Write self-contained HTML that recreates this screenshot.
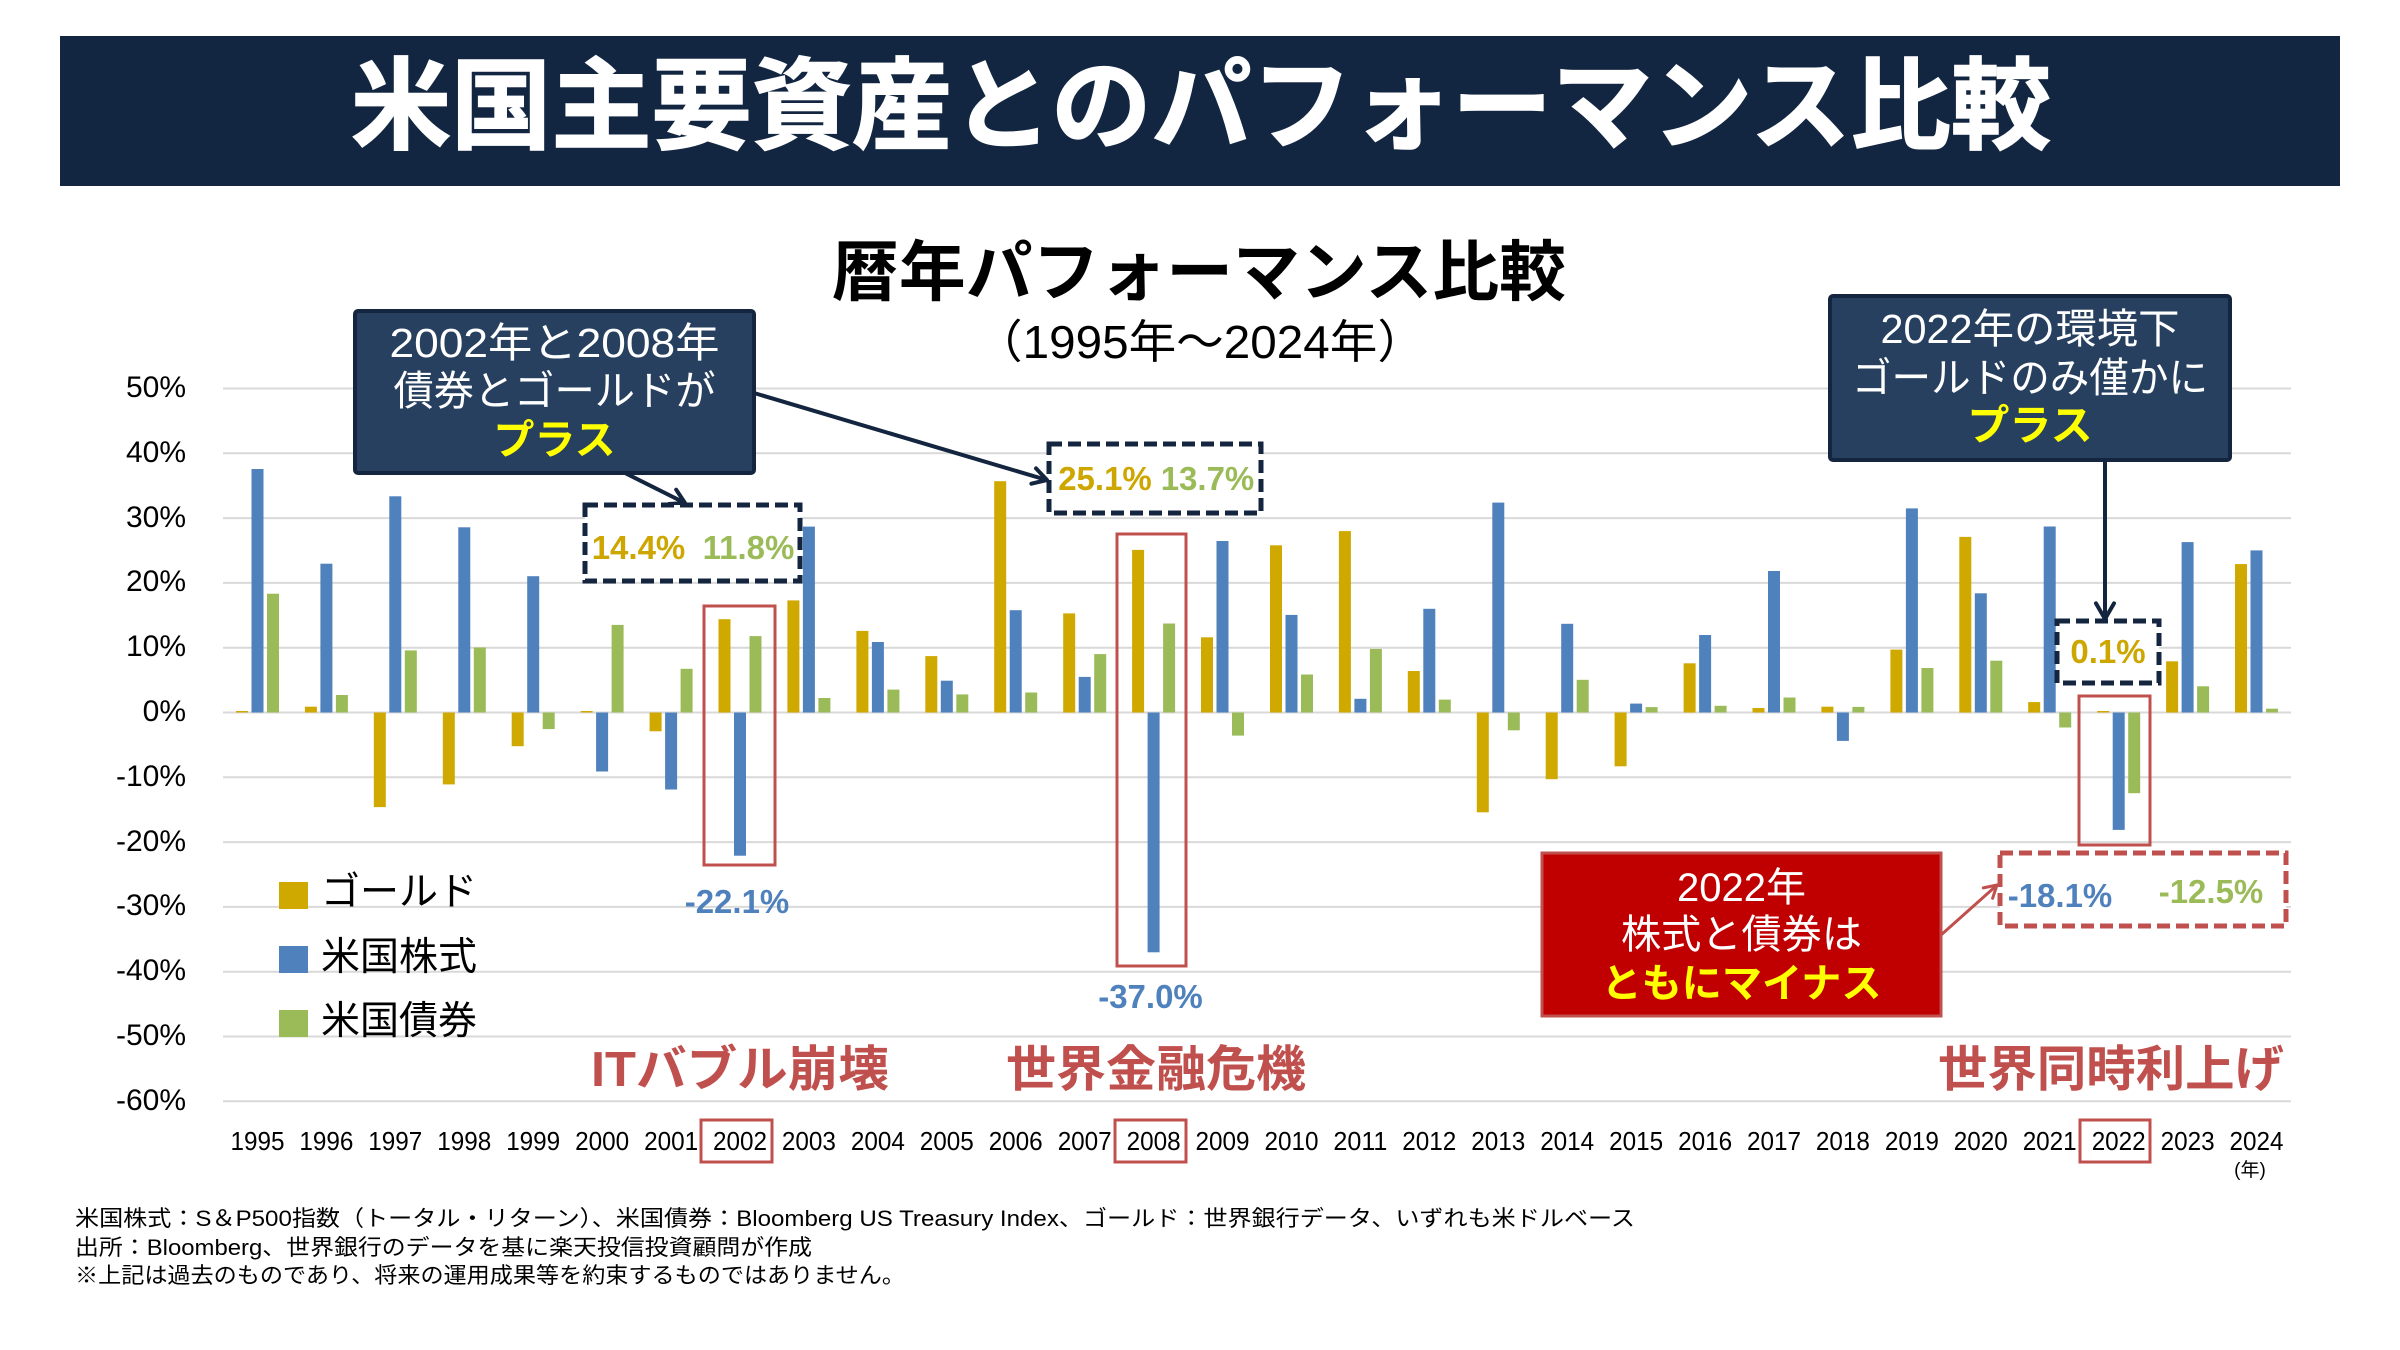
<!DOCTYPE html>
<html lang="ja">
<head>
<meta charset="utf-8">
<style>
html,body{margin:0;padding:0;background:#fff;}
body{width:2400px;height:1350px;overflow:hidden;}
svg{display:block;}
text{font-family:"Liberation Sans","Noto Sans CJK JP",sans-serif;}
.b{font-weight:bold;}
</style>
</head>
<body>
<svg width="2400" height="1350" viewBox="0 0 2400 1350" xmlns="http://www.w3.org/2000/svg">
<rect x="0" y="0" width="2400" height="1350" fill="#fff"/>
<!-- header -->
<rect x="60" y="36" width="2280" height="150" fill="#132641"/>
<text x="1201" y="141" text-anchor="middle" font-size="100" class="b" fill="#fff" stroke="#fff" stroke-width="1.5" textLength="1700" lengthAdjust="spacingAndGlyphs">米国主要資産とのパフォーマンス比較</text>

<!-- chart title -->
<text x="1199" y="295" text-anchor="middle" font-size="66" class="b" fill="#000" textLength="734" lengthAdjust="spacingAndGlyphs">暦年パフォーマンス比較</text>
<text x="1200" y="358" text-anchor="middle" font-size="46" fill="#000" textLength="450" lengthAdjust="spacingAndGlyphs">（1995年～2024年）</text>

<!-- gridlines -->
<g stroke="#d9d9d9" stroke-width="2">
<line x1="223" y1="388.5" x2="2291" y2="388.5"/>
<line x1="223" y1="453.3" x2="2291" y2="453.3"/>
<line x1="223" y1="518.1" x2="2291" y2="518.1"/>
<line x1="223" y1="582.9" x2="2291" y2="582.9"/>
<line x1="223" y1="647.7" x2="2291" y2="647.7"/>
<line x1="223" y1="712.5" x2="2291" y2="712.5"/>
<line x1="223" y1="777.3" x2="2291" y2="777.3"/>
<line x1="223" y1="842.1" x2="2291" y2="842.1"/>
<line x1="223" y1="906.9" x2="2291" y2="906.9"/>
<line x1="223" y1="971.7" x2="2291" y2="971.7"/>
<line x1="223" y1="1036.5" x2="2291" y2="1036.5"/>
<line x1="223" y1="1101.3" x2="2291" y2="1101.3"/>
</g>

<!-- y labels -->
<g font-size="30" fill="#000" text-anchor="end">
<text x="186" y="397">50%</text>
<text x="186" y="462">40%</text>
<text x="186" y="527">30%</text>
<text x="186" y="591">20%</text>
<text x="186" y="656">10%</text>
<text x="186" y="721">0%</text>
<text x="186" y="786">-10%</text>
<text x="186" y="851">-20%</text>
<text x="186" y="915">-30%</text>
<text x="186" y="980">-40%</text>
<text x="186" y="1045">-50%</text>
<text x="186" y="1110">-60%</text>
</g>

<!-- gold bars -->
<g fill="#cfa800">
<rect x="236.0" y="711.0" width="12" height="1.5"/>
<rect x="304.9" y="706.7" width="12" height="5.8"/>
<rect x="373.8" y="712.5" width="12" height="94.6"/>
<rect x="442.8" y="712.5" width="12" height="71.9"/>
<rect x="511.7" y="712.5" width="12" height="33.7"/>
<rect x="580.6" y="711.0" width="12" height="1.5"/>
<rect x="649.6" y="712.5" width="12" height="18.8"/>
<rect x="718.5" y="619.2" width="12" height="93.3"/>
<rect x="787.4" y="600.4" width="12" height="112.1"/>
<rect x="856.4" y="630.9" width="12" height="81.6"/>
<rect x="925.3" y="656.1" width="12" height="56.4"/>
<rect x="994.2" y="481.2" width="12" height="231.3"/>
<rect x="1063.2" y="613.4" width="12" height="99.1"/>
<rect x="1132.1" y="549.9" width="12" height="162.6"/>
<rect x="1201.0" y="637.3" width="12" height="75.2"/>
<rect x="1270.0" y="545.3" width="12" height="167.2"/>
<rect x="1338.9" y="531.1" width="12" height="181.4"/>
<rect x="1407.8" y="671.0" width="12" height="41.5"/>
<rect x="1476.8" y="712.5" width="12" height="99.8"/>
<rect x="1545.7" y="712.5" width="12" height="66.7"/>
<rect x="1614.6" y="712.5" width="12" height="53.8"/>
<rect x="1683.6" y="663.3" width="12" height="49.2"/>
<rect x="1752.5" y="708.0" width="12" height="4.5"/>
<rect x="1821.4" y="706.7" width="12" height="5.8"/>
<rect x="1890.4" y="649.6" width="12" height="62.9"/>
<rect x="1959.3" y="536.9" width="12" height="175.6"/>
<rect x="2028.2" y="702.1" width="12" height="10.4"/>
<rect x="2097.2" y="711.0" width="12" height="1.5"/>
<rect x="2166.1" y="661.3" width="12" height="51.2"/>
<rect x="2235.0" y="564.1" width="12" height="148.4"/>
</g>

<!-- blue bars -->
<g fill="#4f81bd">
<rect x="251.5" y="469.0" width="12" height="243.5"/>
<rect x="320.4" y="563.7" width="12" height="148.8"/>
<rect x="389.3" y="496.3" width="12" height="216.2"/>
<rect x="458.3" y="527.3" width="12" height="185.2"/>
<rect x="527.2" y="576.2" width="12" height="136.3"/>
<rect x="596.1" y="712.5" width="12" height="59.0"/>
<rect x="665.1" y="712.5" width="12" height="77.0"/>
<rect x="734.0" y="712.5" width="12" height="143.2"/>
<rect x="802.9" y="526.6" width="12" height="185.9"/>
<rect x="871.9" y="642.0" width="12" height="70.5"/>
<rect x="940.8" y="680.7" width="12" height="31.8"/>
<rect x="1009.7" y="610.2" width="12" height="102.3"/>
<rect x="1078.7" y="676.9" width="12" height="35.6"/>
<rect x="1147.6" y="712.5" width="12" height="239.8"/>
<rect x="1216.5" y="541.0" width="12" height="171.5"/>
<rect x="1285.5" y="614.9" width="12" height="97.6"/>
<rect x="1354.4" y="698.8" width="12" height="13.7"/>
<rect x="1423.3" y="608.8" width="12" height="103.7"/>
<rect x="1492.3" y="502.6" width="12" height="209.9"/>
<rect x="1561.2" y="623.8" width="12" height="88.7"/>
<rect x="1630.1" y="703.6" width="12" height="8.9"/>
<rect x="1699.1" y="635.0" width="12" height="77.5"/>
<rect x="1768.0" y="571.0" width="12" height="141.5"/>
<rect x="1836.9" y="712.5" width="12" height="28.4"/>
<rect x="1905.9" y="508.4" width="12" height="204.1"/>
<rect x="1974.8" y="593.3" width="12" height="119.2"/>
<rect x="2043.7" y="526.5" width="12" height="186.0"/>
<rect x="2112.7" y="712.5" width="12" height="117.4"/>
<rect x="2181.6" y="542.1" width="12" height="170.4"/>
<rect x="2250.5" y="550.4" width="12" height="162.1"/>
</g>

<!-- green bars -->
<g fill="#9bbb59">
<rect x="267.0" y="593.7" width="12" height="118.8"/>
<rect x="335.9" y="695.0" width="12" height="17.5"/>
<rect x="404.8" y="650.4" width="12" height="62.1"/>
<rect x="473.8" y="647.5" width="12" height="65.0"/>
<rect x="542.7" y="712.5" width="12" height="16.6"/>
<rect x="611.6" y="624.9" width="12" height="87.6"/>
<rect x="680.6" y="668.8" width="12" height="43.7"/>
<rect x="749.5" y="636.1" width="12" height="76.4"/>
<rect x="818.4" y="698.0" width="12" height="14.5"/>
<rect x="887.4" y="689.6" width="12" height="22.9"/>
<rect x="956.3" y="694.4" width="12" height="18.1"/>
<rect x="1025.2" y="692.5" width="12" height="20.0"/>
<rect x="1094.2" y="654.1" width="12" height="58.4"/>
<rect x="1163.1" y="623.5" width="12" height="89.0"/>
<rect x="1232.0" y="712.5" width="12" height="23.1"/>
<rect x="1301.0" y="674.5" width="12" height="38.0"/>
<rect x="1369.9" y="648.9" width="12" height="63.6"/>
<rect x="1438.8" y="699.6" width="12" height="12.9"/>
<rect x="1507.8" y="712.5" width="12" height="17.8"/>
<rect x="1576.7" y="679.8" width="12" height="32.7"/>
<rect x="1645.6" y="707.1" width="12" height="5.4"/>
<rect x="1714.6" y="705.8" width="12" height="6.7"/>
<rect x="1783.5" y="697.5" width="12" height="15.0"/>
<rect x="1852.4" y="706.9" width="12" height="5.6"/>
<rect x="1921.4" y="668.0" width="12" height="44.5"/>
<rect x="1990.3" y="660.7" width="12" height="51.8"/>
<rect x="2059.2" y="712.5" width="12" height="15.0"/>
<rect x="2128.2" y="712.5" width="12" height="80.7"/>
<rect x="2197.1" y="686.3" width="12" height="26.2"/>
<rect x="2266.0" y="708.7" width="12" height="3.8"/>
</g>

<!-- red highlight boxes -->
<g fill="none" stroke="#c0504d" stroke-width="3">
<rect x="704" y="606" width="71" height="259"/>
<rect x="1117" y="534" width="69" height="432"/>
<rect x="2079" y="696" width="71" height="149"/>
<rect x="701" y="1120" width="71" height="42"/>
<rect x="1115" y="1120" width="71" height="42"/>
<rect x="2080" y="1120" width="70" height="42"/>
</g>

<!-- x labels -->
<g font-size="26" fill="#000" text-anchor="middle">
<text x="257.5" y="1150" textLength="54" lengthAdjust="spacingAndGlyphs">1995</text>
<text x="326.4" y="1150" textLength="54" lengthAdjust="spacingAndGlyphs">1996</text>
<text x="395.3" y="1150" textLength="54" lengthAdjust="spacingAndGlyphs">1997</text>
<text x="464.3" y="1150" textLength="54" lengthAdjust="spacingAndGlyphs">1998</text>
<text x="533.2" y="1150" textLength="54" lengthAdjust="spacingAndGlyphs">1999</text>
<text x="602.1" y="1150" textLength="54" lengthAdjust="spacingAndGlyphs">2000</text>
<text x="671.1" y="1150" textLength="54" lengthAdjust="spacingAndGlyphs">2001</text>
<text x="740.0" y="1150" textLength="54" lengthAdjust="spacingAndGlyphs">2002</text>
<text x="808.9" y="1150" textLength="54" lengthAdjust="spacingAndGlyphs">2003</text>
<text x="877.9" y="1150" textLength="54" lengthAdjust="spacingAndGlyphs">2004</text>
<text x="946.8" y="1150" textLength="54" lengthAdjust="spacingAndGlyphs">2005</text>
<text x="1015.7" y="1150" textLength="54" lengthAdjust="spacingAndGlyphs">2006</text>
<text x="1084.7" y="1150" textLength="54" lengthAdjust="spacingAndGlyphs">2007</text>
<text x="1153.6" y="1150" textLength="54" lengthAdjust="spacingAndGlyphs">2008</text>
<text x="1222.5" y="1150" textLength="54" lengthAdjust="spacingAndGlyphs">2009</text>
<text x="1291.5" y="1150" textLength="54" lengthAdjust="spacingAndGlyphs">2010</text>
<text x="1360.4" y="1150" textLength="54" lengthAdjust="spacingAndGlyphs">2011</text>
<text x="1429.3" y="1150" textLength="54" lengthAdjust="spacingAndGlyphs">2012</text>
<text x="1498.3" y="1150" textLength="54" lengthAdjust="spacingAndGlyphs">2013</text>
<text x="1567.2" y="1150" textLength="54" lengthAdjust="spacingAndGlyphs">2014</text>
<text x="1636.1" y="1150" textLength="54" lengthAdjust="spacingAndGlyphs">2015</text>
<text x="1705.1" y="1150" textLength="54" lengthAdjust="spacingAndGlyphs">2016</text>
<text x="1774.0" y="1150" textLength="54" lengthAdjust="spacingAndGlyphs">2017</text>
<text x="1842.9" y="1150" textLength="54" lengthAdjust="spacingAndGlyphs">2018</text>
<text x="1911.9" y="1150" textLength="54" lengthAdjust="spacingAndGlyphs">2019</text>
<text x="1980.8" y="1150" textLength="54" lengthAdjust="spacingAndGlyphs">2020</text>
<text x="2049.7" y="1150" textLength="54" lengthAdjust="spacingAndGlyphs">2021</text>
<text x="2118.7" y="1150" textLength="54" lengthAdjust="spacingAndGlyphs">2022</text>
<text x="2187.6" y="1150" textLength="54" lengthAdjust="spacingAndGlyphs">2023</text>
<text x="2256.5" y="1150" textLength="54" lengthAdjust="spacingAndGlyphs">2024</text>
</g>
<text x="2250" y="1176" font-size="19" text-anchor="middle" fill="#000">(年)</text>

<!-- legend -->
<rect x="279" y="882" width="29" height="27" fill="#cfa800"/>
<rect x="279" y="946" width="29" height="27" fill="#4f81bd"/>
<rect x="279" y="1010" width="29" height="27" fill="#9bbb59"/>
<g font-size="39" fill="#000">
<text x="321" y="905">ゴールド</text>
<text x="321" y="970">米国株式</text>
<text x="321" y="1034">米国債券</text>
</g>

<!-- event labels -->
<g font-size="49" class="b" fill="#c0504d" text-anchor="middle">
<text x="740" y="1086" textLength="298" lengthAdjust="spacingAndGlyphs">ITバブル崩壊</text>
<text x="1156" y="1086" textLength="300" lengthAdjust="spacingAndGlyphs">世界金融危機</text>
<text x="2111" y="1086" textLength="346" lengthAdjust="spacingAndGlyphs">世界同時利上げ</text>
</g>

<!-- callout 1 -->
<rect x="355" y="311" width="399" height="162" rx="3" fill="#27405f" stroke="#14253f" stroke-width="4"/>
<g text-anchor="middle" fill="#fff" font-size="41">
<text x="554.5" y="357" textLength="330" lengthAdjust="spacingAndGlyphs">2002年と2008年</text>
<text x="554.5" y="405" textLength="322" lengthAdjust="spacingAndGlyphs">債券とゴールドが</text>
</g>
<text x="554.5" y="454" text-anchor="middle" font-size="41" class="b" fill="#ffff00">プラス</text>

<!-- callout 2 -->
<rect x="1830" y="296" width="400" height="164" rx="3" fill="#27405f" stroke="#14253f" stroke-width="4"/>
<g text-anchor="middle" fill="#fff" font-size="41">
<text x="2030" y="343" textLength="299" lengthAdjust="spacingAndGlyphs">2022年の環境下</text>
<text x="2030" y="392" textLength="356" lengthAdjust="spacingAndGlyphs">ゴールドのみ僅かに</text>
</g>
<text x="2030" y="440" text-anchor="middle" font-size="42" class="b" fill="#ffff00">プラス</text>

<!-- navy arrows -->
<g stroke="#14253f" stroke-width="4" fill="none" stroke-linecap="round" stroke-linejoin="round">
<line x1="754" y1="393" x2="1045" y2="479.5"/>
<polyline points="1036,468.4 1047,480 1031.4,483.7"/>
<line x1="625" y1="473" x2="684" y2="502.5"/>
<polyline points="676.2,489.7 685,503 669,504"/>
<line x1="2105" y1="460" x2="2105" y2="617"/>
<polyline points="2096,603.4 2105,619 2114,603.4"/>
</g>

<!-- navy dashed boxes -->
<g fill="#fff" stroke="#14253f" stroke-width="5" stroke-dasharray="13 6">
<rect x="585" y="505" width="215" height="76"/>
<rect x="1049" y="444" width="212" height="69"/>
<rect x="2057" y="621" width="102" height="62"/>
</g>
<g font-size="33" class="b" text-anchor="middle">
<text x="638.5" y="559" fill="#cda600">14.4%</text>
<text x="748.5" y="559" fill="#9bbb59">11.8%</text>
<text x="1105" y="490" fill="#cda600">25.1%</text>
<text x="1207.5" y="490" fill="#9bbb59">13.7%</text>
<text x="2108" y="663" fill="#cda600">0.1%</text>
<text x="737" y="913" fill="#4f81bd">-22.1%</text>
<text x="1150.5" y="1008" fill="#4f81bd">-37.0%</text>
</g>

<!-- red callout -->
<rect x="1542" y="853" width="399" height="163" fill="#c00000" stroke="#c0504d" stroke-width="3"/>
<g text-anchor="middle" fill="#fff" font-size="40">
<text x="1741.5" y="901">2022年</text>
<text x="1741.5" y="948" textLength="241" lengthAdjust="spacingAndGlyphs">株式と債券は</text>
</g>
<text x="1741.5" y="997" text-anchor="middle" font-size="40" class="b" fill="#ffff00" textLength="280" lengthAdjust="spacingAndGlyphs">ともにマイナス</text>

<!-- red arrow -->
<g stroke="#c0504d" stroke-width="3" fill="none" stroke-linecap="round" stroke-linejoin="round">
<line x1="1941" y1="935" x2="1996" y2="886"/>
<polyline points="1983.3,887.9 1997,885 1992.6,898.3"/>
</g>

<!-- red dashed box -->
<rect x="2000" y="853" width="286" height="73" fill="#fff" stroke="#c0504d" stroke-width="5" stroke-dasharray="13 6"/>
<g font-size="33" class="b" text-anchor="middle">
<text x="2060" y="907" fill="#4f81bd">-18.1%</text>
<text x="2211" y="903" fill="#9bbb59">-12.5%</text>
</g>

<!-- footnotes -->
<g font-size="22" fill="#000">
<text x="75" y="1226" textLength="1560" lengthAdjust="spacingAndGlyphs">米国株式：S＆P500指数（トータル・リターン）、米国債券：Bloomberg US Treasury Index、ゴールド：世界銀行データ、いずれも米ドルベース</text>
<text x="75" y="1255" textLength="737" lengthAdjust="spacingAndGlyphs">出所：Bloomberg、世界銀行のデータを基に楽天投信投資顧問が作成</text>
<text x="75" y="1283" textLength="830" lengthAdjust="spacingAndGlyphs">※上記は過去のものであり、将来の運用成果等を約束するものではありません。</text>
</g>
</svg>
</body>
</html>
